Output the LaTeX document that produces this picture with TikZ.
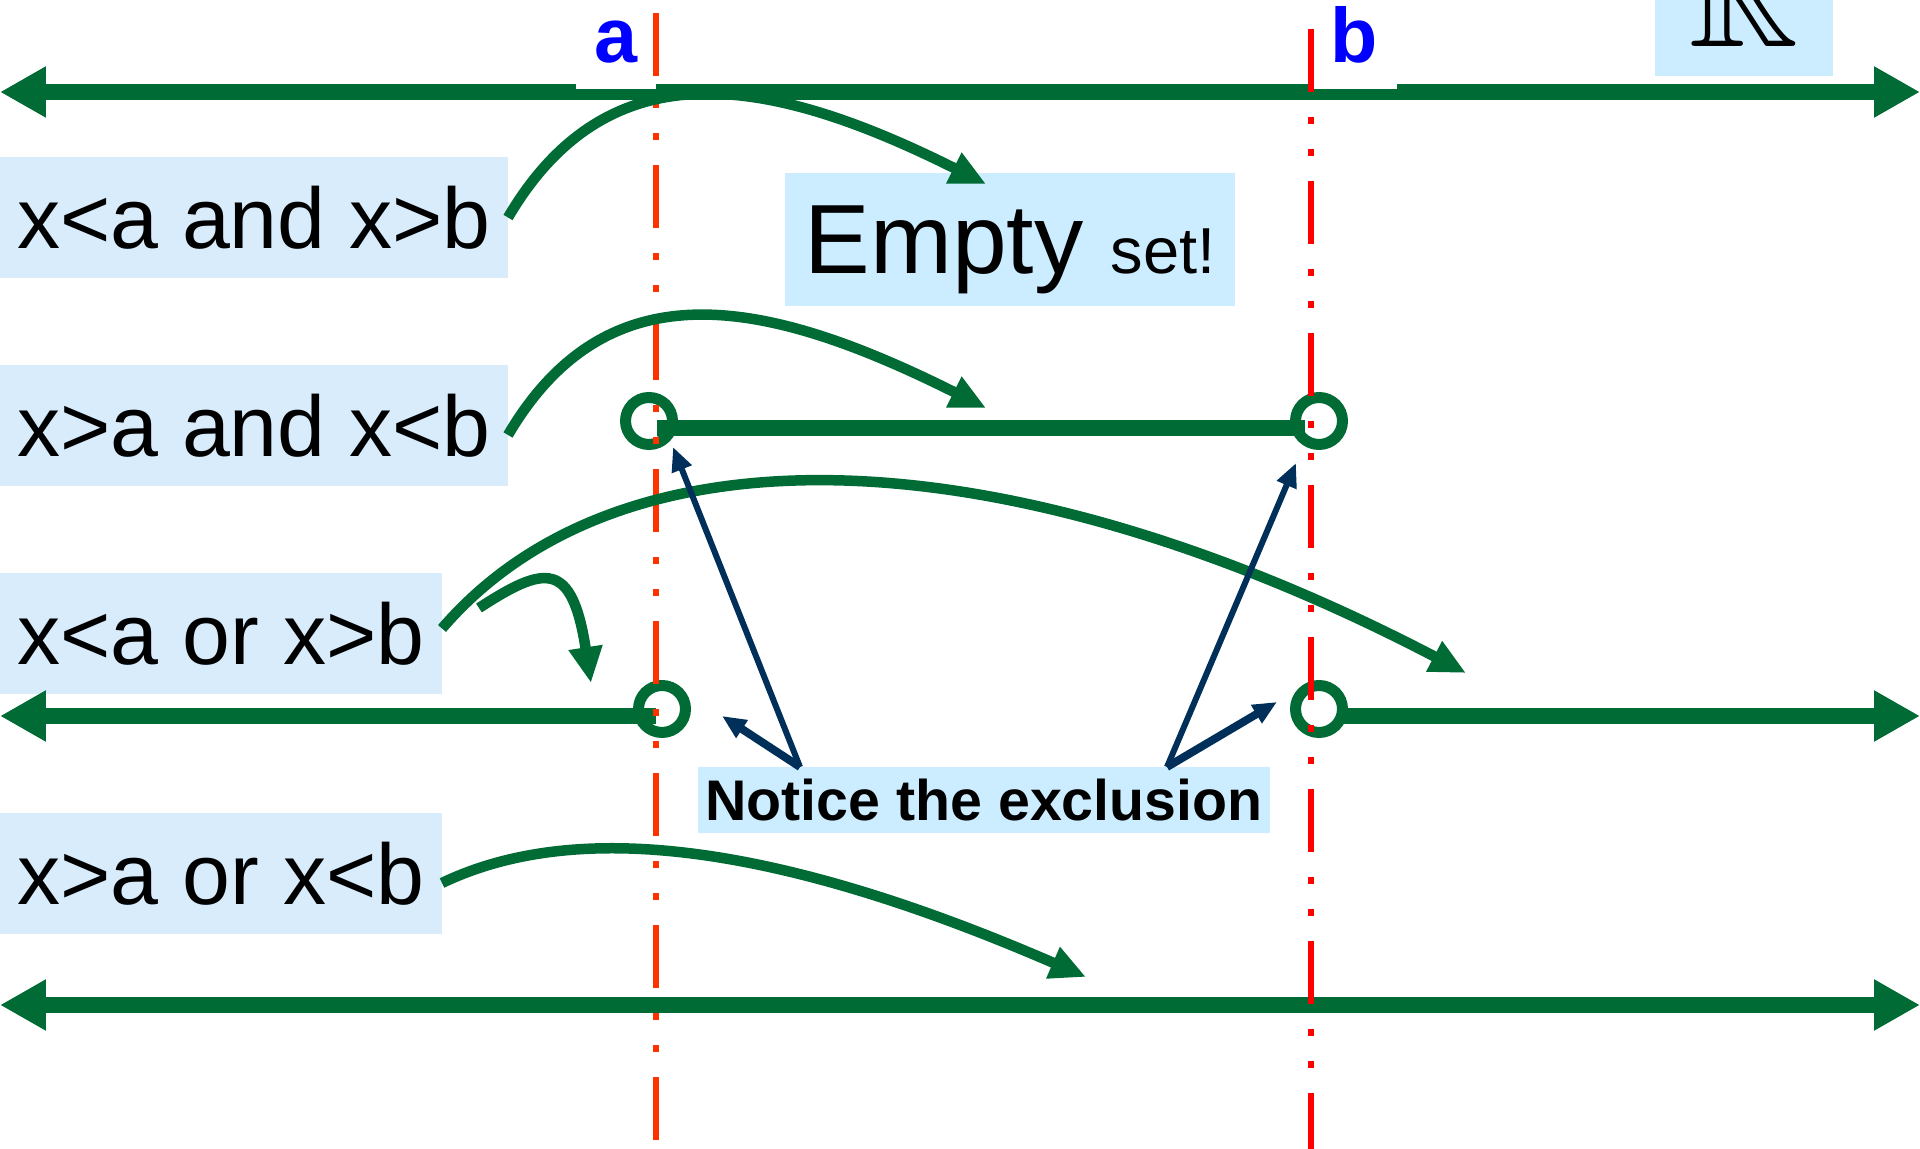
\documentclass[tikz,border=0pt]{standalone}
\usepackage{amssymb}
\usepackage{fontspec}
\setmainfont{Liberation Sans}
\usetikzlibrary{arrows.meta,positioning,calc}
\definecolor{lineGreen}{HTML}{006B35}
\definecolor{noteBlue}{HTML}{00305A}
\definecolor{boxBlue}{HTML}{D8ECFC}
\definecolor{paleBlue}{HTML}{CCECFF}
\definecolor{lineA}{HTML}{FF3300}
\definecolor{lineB}{HTML}{FF0000}

\begin{document}
\begin{tikzpicture}[x=0.1mm, y=-0.1mm, every node/.style={inner sep=0pt, outer sep=0pt}, condbox/.style={fill=boxBlue,minimum height=12.1mm,font=\fontsize{24.5}{28}\selectfont}, infobox/.style={fill=paleBlue}, endlabel/.style={fill=white,text=blue,font=\bfseries\fontsize{22}{24}\selectfont,text depth=2.6mm,anchor=base}, numline/.style={lineGreen,line width=1.6mm}, bothends/.style={numline,{Triangle[length=4.6mm,width=4.8mm]}-{Triangle[length=4.6mm,width=4.8mm]}}, hole/.style={circle,draw=lineGreen,line width=1.1mm,minimum size=4.7mm}, bound/.style={line width=0.6mm,dash pattern=on 6.3mm off 2.5mm on 0.7mm off 2.5mm on 0.7mm off 2.5mm}, swing/.style={lineGreen,line width=1.05mm,-{Triangle[length=3.6mm,width=3.2mm]}}, hint/.style={noteBlue,line width=0.6mm,-{Triangle[length=2.4mm,width=2mm]}}]
\useasboundingbox (0,0) rectangle (1920,1149);
\clip (0,0) rectangle (1920,1149);
% boxes
\node[condbox,minimum width=50.8mm] (c1) at (254,217.5) {x<a and x>b};
\node[condbox,minimum width=50.8mm] (c2) at (254,426) {x>a and x<b};
\node[condbox,minimum width=44.2mm] (c3) at (221,633.5) {x<a or x>b};
\node[condbox,minimum width=44.2mm] (c4) at (221,873.5) {x>a or x<b};
\node[infobox,minimum width=45mm,minimum height=13.3mm,text depth=0pt] (es) at (1010,239.5) {\fontsize{28}{31}\selectfont Empty \fontsize{18.5}{21}\selectfont set!};
\node[infobox,minimum width=57.2mm,minimum height=6.6mm,font=\bfseries\fontsize{16.3}{19}\selectfont] (ex) at (984,800) {Notice the exclusion};
\node[infobox,minimum width=17.8mm,text depth=2.9mm,anchor=base] (rr) at (1744,47) {\fontsize{43}{50}\selectfont$\mathbb{R}$};
% number lines
\coordinate (r2) at (0,428); \coordinate (r3) at (0,716);
\draw[bothends] (0,92) -- (1920,92);
\draw[bothends] (0,1005) -- (1920,1005);
\node[hole] (h1) at (649,421) {};
\node[hole] (h2) at (1319,421) {};
\node[hole] (h3) at (662,709) {};
\node[hole] (h4) at (1319,709) {};
\draw[numline] (657,428) -- (1305,428);
\draw[numline,{Triangle[length=4.6mm,width=4.8mm]}-] (r3) -- (656,716);
\draw[numline,-{Triangle[length=4.6mm,width=4.8mm]}] (h4.east |- r3) -- (1920,716);
\node[endlabel,minimum width=8mm] (la) at (616,63) {a};
\node[endlabel,minimum width=8.5mm] (lb) at (1354,63) {b};
\draw[bound,lineA] (656,13) -- (656,1140);
\draw[bound,lineB] (1311,29) -- (1311,1160);
% arrows
\coordinate (e1) at (986,184); \coordinate (e2) at (986,408); \coordinate (e3) at (1466,673);
\coordinate (fk) at (479,608); \coordinate (e4) at (591,683); \coordinate (e5) at (1086,977);
\draw[swing] (c1.east) .. controls +(100,-170) and +(-220,-110) .. (e1);
\draw[swing] ([yshift=-0.9mm]c2.east) .. controls +(100,-170) and +(-220,-110) .. (e2);
\draw[swing] ([yshift=0.5mm]c3.east) .. controls +(185,-215) and +(-446,-233) .. (e3);
\draw[swing] (fk) .. controls +(66,-43) and +(-19,-123) .. (e4);
\draw[swing] ([yshift=-0.95mm]c4.east) .. controls +(115,-55) and +(-346,-150) .. (e5);
\coordinate (n1) at ([xshift=-18.4mm]ex.north); \coordinate (n2) at ([xshift=18.3mm]ex.north);
\coordinate (p1) at (673,447); \coordinate (p2) at (722,716); \coordinate (p3) at (1296,463); \coordinate (p4) at (1277,702);
\draw[hint] (n1) -- (p1); \draw[hint,line width=0.8mm] (n1) -- (p2);
\draw[hint] (n2) -- (p3); \draw[hint,line width=0.8mm] (n2) -- (p4);
\end{tikzpicture}
\end{document}
